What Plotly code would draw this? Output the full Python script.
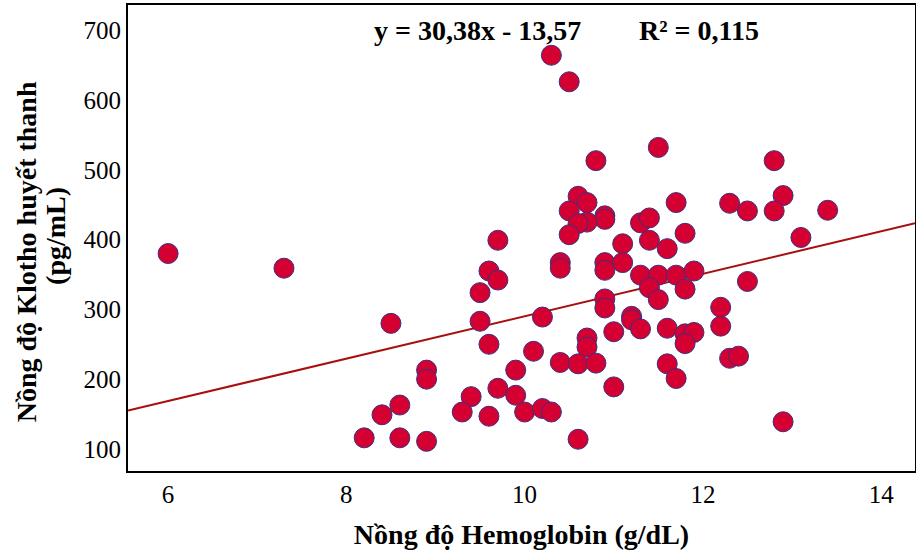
import plotly.graph_objects as go

hemoglobin = [6.0, 7.3, 9.7, 9.6, 9.7, 9.5, 10.3, 10.5, 11.5, 10.8,
              12.8, 10.6, 10.7, 10.5, 12.9, 11.7, 12.3, 12.5, 12.8, 13.4,
              10.9, 10.9, 10.7, 10.6, 11.3, 11.4, 10.5, 11.8, 13.1, 11.1,
              11.4, 11.6, 10.4, 10.4, 10.9, 10.9, 11.1, 11.3, 11.5, 11.7,
              11.9, 12.5, 11.4, 11.8, 11.5, 10.9, 10.9, 12.2, 12.2, 10.2,
              11.2, 11.2, 11.3, 11.6, 11.8, 11.9, 11.8, 11.0, 10.7, 10.7,
              10.1, 10.4, 10.6, 10.8, 11.6, 11.7, 12.3, 12.4, 9.9, 9.7,
              9.9, 10.0, 10.2, 10.3, 11.0, 10.6, 12.9, 9.6, 8.5, 9.5,
              9.6, 8.9, 8.9, 9.4, 8.6, 8.4, 9.3, 8.2, 8.6, 8.9]
klotho = [380, 359, 399, 355, 342, 324, 664, 626, 532, 513,
          513, 462, 453, 441, 463, 453, 452, 441, 441, 442,
          434, 429, 425, 423, 424, 431, 407, 409, 403, 394,
          399, 387, 367, 359, 367, 356, 367, 349, 349, 349,
          355, 340, 331, 329, 314, 315, 302, 303, 276, 289,
          290, 285, 272, 273, 265, 267, 251, 268, 259, 246,
          240, 224, 222, 223, 222, 201, 230, 233, 213, 187,
          177, 153, 158, 153, 189, 114, 139, 147, 280, 283,
          250, 213, 200, 175, 163, 149, 153, 116, 116, 111]

slope = 30.38
intercept = -13.57
x_range = [5.55, 14.38]
y_range = [68.5, 736]
x_ticks = [6, 8, 10, 12, 14]
y_ticks = [100, 200, 300, 400, 500, 600, 700]
equation_text = "y = 30,38x - 13,57"
r2_text = "R² = 0,115"
x_title = "Nồng độ Hemoglobin (g/dL)"
y_title_lines = ["Nồng độ Klotho huyết thanh", "(pg/mL)"]

FONT = "Liberation Serif"

fig = go.Figure()
fig.add_trace(go.Scatter(
    x=x_range, y=[slope * v + intercept for v in x_range],
    mode="lines", line=dict(color="#A80F0F", width=2), hoverinfo="skip",
    showlegend=False))
fig.add_trace(go.Scatter(
    x=hemoglobin, y=klotho, mode="markers",
    marker=dict(size=20, color="#D50032", line=dict(color="#3B2F80", width=1)),
    showlegend=False))

fig.add_annotation(x=0.444, xref="paper", y=700, yref="y", text=f"<b>{equation_text}</b>",
                   xanchor="center", showarrow=False,
                   font=dict(family=FONT, size=28, color="black"))
fig.add_annotation(x=0.726, xref="paper", y=700, yref="y", text=f"<b>{r2_text}</b>",
                   xanchor="center", showarrow=False,
                   font=dict(family=FONT, size=28, color="black"))

# rotated y-axis title, two lines
fig.add_annotation(x=-0.128, xref="paper", y=0.47, yref="paper", text=f"<b>{y_title_lines[0]}</b>",
                   textangle=-90, xanchor="center", yanchor="middle", showarrow=False,
                   font=dict(family=FONT, size=28, color="black"))
fig.add_annotation(x=-0.093, xref="paper", y=0.504, yref="paper", text=f"<b>{y_title_lines[1]}</b>",
                   textangle=-90, xanchor="center", yanchor="middle", showarrow=False,
                   font=dict(family=FONT, size=28, color="black"))

fig.update_layout(
    width=916, height=553,
    margin=dict(l=128, r=1, t=5, b=82, autoexpand=False),
    paper_bgcolor="white", plot_bgcolor="white",
    font=dict(family=FONT, color="black", size=24),
    xaxis=dict(range=x_range, tickvals=x_ticks, showgrid=False, zeroline=False,
               showline=True, linecolor="black", linewidth=2, mirror=True,
               ticks="", tickfont=dict(size=25), automargin=False,
               title=dict(text=f"<b>{x_title}</b>", font=dict(size=28), standoff=17)),
    yaxis=dict(range=y_range, tickvals=y_ticks, showgrid=False, zeroline=False,
               showline=True, linecolor="black", linewidth=2, mirror=True,
               ticks="", tickfont=dict(size=25), automargin=False),
)

fig.write_html("out.html", config={"displayModeBar": False},
               post_script="document.body.style.margin='0px';")
